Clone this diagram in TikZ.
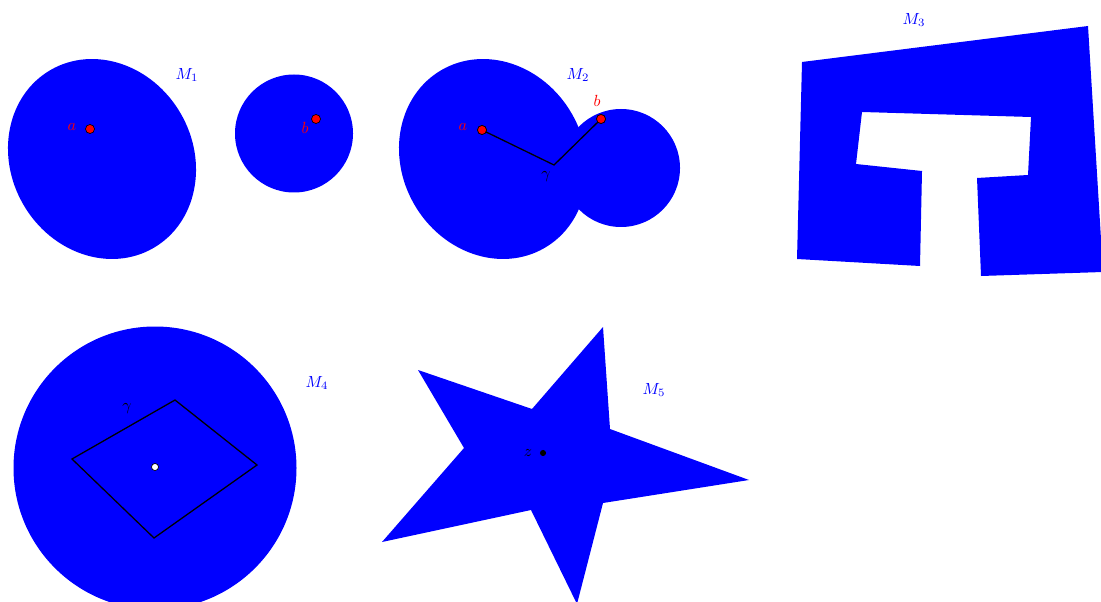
\documentclass[tikz,border=0pt]{standalone}
\begin{document}
\begin{tikzpicture}[x=0.62pt,y=-0.62pt,
  region/.style={fill=blue,draw=none},
  redpt/.style={circle,draw=black,fill=red,inner sep=0pt,minimum size=5.6pt,line width=0.4pt},
  whitept/.style={circle,draw=black,fill=white,inner sep=0pt,minimum size=4.4pt,line width=0.4pt},
  blackpt/.style={circle,fill=black,inner sep=0pt,minimum size=3.8pt},
  mlabel/.style={text=blue,inner sep=0pt},
  rlabel/.style={text=red,inner sep=0pt},
  klabel/.style={text=black,inner sep=0pt},
  curve/.style={draw=black,line width=0.8pt}]
\useasboundingbox (0,0) rectangle (1101,602);
\begin{scope}
\clip (0,0) rectangle (1101,602);
% M1 blob and disc, M2 blob
\fill[region,rotate around={-60:(102,159)}] (102,159) ellipse [x radius=102.8, y radius=90.9];
\fill[region,rotate around={-60:(493,159)}] (493,159) ellipse [x radius=102.8, y radius=90.9];
\fill[region] (294,133.5) circle[radius=59];
\fill[region] (621,168) circle[radius=59];
% M3
\fill[region] (802,62) -- (1088,26) -- (1103,272) -- (981,276) -- (977,178) -- (1028,175)
  -- (1031,117) -- (862,112) -- (856,164) -- (922,171) -- (920,266) -- (797,259) -- cycle;
% M4
\fill[region] (155,468) circle[radius=141.5];
% M5
\fill[region] (603,327) -- (610,429) -- (749,480) -- (603,503) -- (577,604) -- (531,510)
  -- (382,542) -- (464,448) -- (418,370) -- (532,409) -- cycle;
\end{scope}
% M1 points
\node[redpt] (a1) at (90,129) {};
\node[rlabel] (la1) at (72,127) {$a$};
\node[redpt] (b1) at (316,119) {};
\node[rlabel] (lb1) at (305,128) {$b$};
\node[mlabel] (m1) at (187,75) {$M_1$};
% M2
\coordinate (c2) at (554,165);
\node[redpt] (a2) at (482,130) {};
\node[redpt] (b2) at (601,119) {};
\draw[curve] (a2.center) -- (c2) -- (b2.center);
\node[redpt] at (a2) {};
\node[redpt] at (b2) {};
\node[rlabel] (la2) at (463,127) {$a$};
\node[rlabel] (lb2) at (597,101) {$b$};
\node[klabel] (g2) at (546,177) {$\gamma$};
\node[mlabel] (m2) at (578,75) {$M_2$};
% M3 label
\node[mlabel] (m3) at (914,20) {$M_3$};
% M4
\coordinate (r1) at (72,459);
\coordinate (r2) at (175,400);
\coordinate (r3) at (257,465);
\coordinate (r4) at (154,538);
\draw[curve] (r1) -- (r2) -- (r3) -- (r4) -- cycle;
\node[whitept] (o4) at (155,467) {};
\node[klabel] (g4) at (127,409) {$\gamma$};
\node[mlabel] (m4) at (317,383) {$M_4$};
% M5
\node[blackpt] (z) at (543,453) {};
\node[klabel] (lz) at (528,453) {$z$};
\node[mlabel] (m5) at (654,390) {$M_5$};
\end{tikzpicture}
\end{document}
